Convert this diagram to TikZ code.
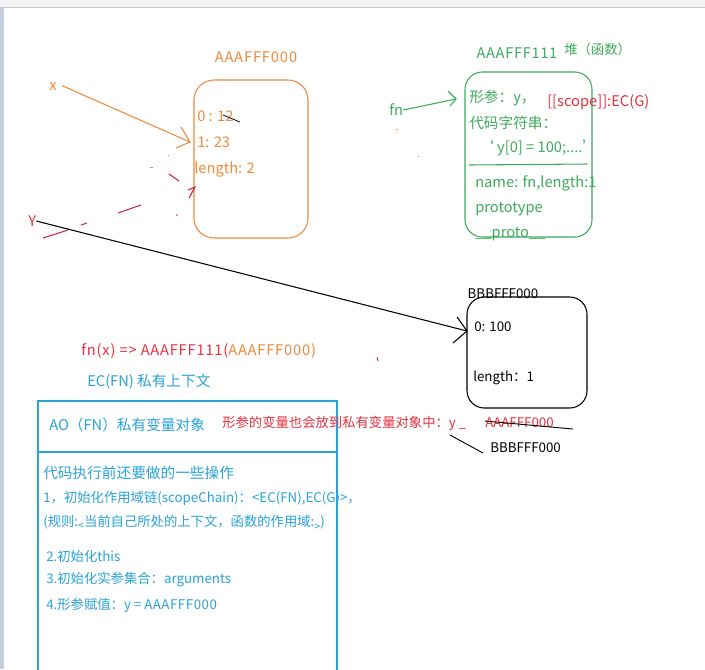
\documentclass[tikz,border=0pt]{standalone}
\usepackage{fontspec}
\setmainfont{Noto Sans CJK SC}
\definecolor{cor}{HTML}{F08A3C}
\definecolor{cgr}{HTML}{3DAA5C}
\definecolor{crd}{HTML}{E5303F}
\definecolor{cbl}{HTML}{2AA3D8}
\definecolor{topg}{HTML}{F2F3F2}
\definecolor{lav}{HTML}{C9CDE0}
\definecolor{cmk}{HTML}{C8284A}
\begin{document}
\begin{tikzpicture}[x=0.75pt,y=-0.75pt,
  txt/.style={inner sep=0pt,anchor=west,font=\fontsize{11}{13}\selectfont},
  txts/.style={inner sep=0pt,anchor=west,font=\fontsize{10}{12}\selectfont},
  wide/.style={font=\fontsize{11}{13}\selectfont\addfontfeature{LetterSpace=#1}},
  ln/.style={line width=0.8pt},
  scrib/.style={line width=0.8pt,cmk}]
\useasboundingbox (0,0) rectangle (705,669);
\fill[white] (0,0) rectangle (705,669);
\fill[topg] (0,0) rectangle (705,7);
\draw[gray!45] (0,7) -- (705,7);
\fill[lav] (0,7) rectangle (4,669);

% ---------- orange object AAAFFF000 ----------
\node[txt,wide=6,cor,anchor=center] (ttlA) at (256,57) {AAAFFF000};
\draw[ln,cor,rounded corners=15pt] (194,80) rectangle (308,238);
\node[txt,cor] (a0) at (197,116) {0 : 12};
\node[txt,cor] (a1) at (197,142) {1: 23};
\node[txt,cor] (alen) at (194,169) {length: 2};
\coordinate (s1) at (223,115); \coordinate (s2) at (240,122);
\draw[line width=0.6pt,black] (s1) -- (s2);

\node[txt,cor] (xv) at (49,87) {x};
\coordinate (xtip) at (190,142);
\coordinate (xh1) at (181,127); \coordinate (xh2) at (176,148);
\draw[ln,cor] (xv.east) ++(4pt,1pt) -- (xtip);
\draw[ln,cor] (xh1) -- (xtip) -- (xh2);

% scribbles
\draw[scrib] (169,174) -- (179,181);
\draw[scrib] (189,198) -- (195,187) -- (188,190);
\draw[scrib] (118,213) -- (141,205);
\draw[scrib] (81,225) -- (87,223);
\draw[scrib] (43,238) -- (68,230);
\fill[cmk] (177,215) circle (0.8);
\fill[cor] (150,167) rectangle (153,168);
\fill[cor] (168,155) rectangle (169,156);
\draw[line width=0.7pt,cmk] (377,357) -- (378,361);
\fill[cor] (396,129) rectangle (398,130);
\fill[cgr] (418,156) rectangle (419,157);

% ---------- green function AAAFFF111 ----------
\node[txt,wide=4.5,cgr,anchor=center] (ttlF) at (517,53) {AAAFFF111};
\node[txts,cgr] (heap) at (564,49) {堆（函数）};
\draw[ln,cgr,rounded corners=13pt] (465,72) rectangle (592,237);
\node[txt,cgr] (f1) at (469,98) {形参：y，};
\node[txt,crd] (fsc) at (547,102) {[[scope]]:EC(G)};
\node[txt,cgr] (f2) at (469,123) {代码字符串：};
\node[txt,cgr] (f3) at (479,148) {‘ y[0] = 100;....’};
\coordinate (g1) at (469,165); \coordinate (g2) at (587,164);
\draw[ln,cgr] (g1) -- (g2);
\node[txt,cgr] (f4) at (475,183) {name: fn,length:1};
\node[txt,cgr] (f5) at (475,209) {prototype};
\node[txt,cgr] (f6) at (475,234) {\_\_proto\_\_};

\node[txt,cgr] (fnv) at (389,110) {fn};
\coordinate (ftip) at (456,99);
\coordinate (fh1) at (448,91); \coordinate (fh2) at (450,106);
\draw[ln,cgr] (fnv.east) -- (ftip);
\draw[ln,cgr] (fh1) -- (ftip) -- (fh2);

% ---------- black object BBBFFF000 ----------
\node[txts,black,anchor=center] (ttlB) at (503,294) {BBBFFF000};
\draw[ln,black,rounded corners=13pt] (467,297) rectangle (587,408);
\node[txts,black] (b0) at (474,327) {0: 100};
\node[txts,black] (b1) at (473,378) {length：1};

\node[txt,crd] (yv) at (28,221) {Y};
\coordinate (ytip) at (467,331);
\coordinate (yh1) at (457,317); \coordinate (yh2) at (453,343);
\draw[ln,black] (yv.east) -- (ytip);
\draw[ln,black] (yh1) -- (ytip) -- (yh2);

% ---------- call & context ----------
\node[txt,wide=5.6] (call) at (81,351) {\color{crd}fn(x) => AAAFFF111(\color{cor}AAAFFF000)};
\node[txt,cbl] (ecfn) at (87,382) {EC(FN) 私有上下文};

\coordinate (bx1) at (38,675); \coordinate (bx2) at (38,401);
\coordinate (bx3) at (337,401); \coordinate (bx4) at (337,675);
\draw[ln,cbl] (bx1) -- (bx2) -- (bx3) -- (bx4);
\node[txt,cbl] (ao) at (49,425) {AO（FN）私有变量对象};
\coordinate (d1) at (38,452); \coordinate (d2) at (337,452);
\draw[ln,cbl] (d1) -- (d2);

\node[txts,crd] (note) at (222,423) {形参的变量也会放到私有变量对象中：y \_};
\node[txts,crd] (oldv) at (485,423) {AAAFFF000};
\coordinate (k1) at (485,421); \coordinate (k2) at (573,429);
\draw[line width=0.7pt,black] (k1) -- (k2);
\node[txts,black] (newv) at (490,448) {BBBFFF000};
\coordinate (m1) at (450,435); \coordinate (m2) at (483,453);
\draw[line width=0.7pt,black] (m1) -- (m2);

\node[txt,cbl] (p0) at (43,473) {代码执行前还要做的一些操作};
\node[txts,cbl] (p1) at (43,498) {1，初始化作用域链(scopeChain)：<EC(FN),EC(G)>，};
\node[txts,cbl] (p1b) at (43,523) {(规则:\raisebox{-2pt}{\footnotesize<}当前自己所处的上下文，函数的作用域:\raisebox{-3pt}{\footnotesize>})};
\node[txts,cbl] (p2) at (46,556) {2.初始化this};
\node[txts,cbl] (p3) at (46,580) {3.初始化实参集合：arguments};
\node[txts,cbl] (p4) at (46,605) {4.形参赋值：y = {\addfontfeature{LetterSpace=4}AAAFFF000}};
\end{tikzpicture}
\end{document}
